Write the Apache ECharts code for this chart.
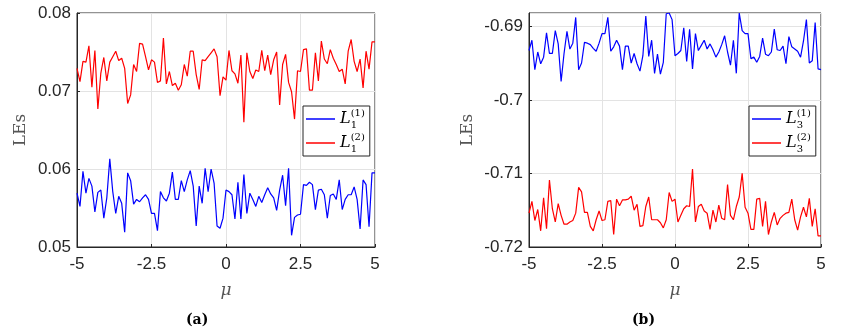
<!DOCTYPE html>
<html>
<head>
<meta charset="utf-8">
<script src="https://cdn.jsdelivr.net/npm/echarts@6/dist/echarts.min.js"></script>
<style>
  html, body { margin: 0; padding: 0; background: #fff; }
  #main { width: 857px; height: 333px; }
</style>
</head>
<body>
<div id="main"></div>
<script>
// mu grid, -5 .. 5 step 0.1
const mu = [-5, -4.9, -4.8, -4.7, -4.6, -4.5, -4.4, -4.3, -4.2, -4.1,
  -4, -3.9, -3.8, -3.7, -3.6, -3.5, -3.4, -3.3, -3.2, -3.1,
  -3, -2.9, -2.8, -2.7, -2.6, -2.5, -2.4, -2.3, -2.2, -2.1,
  -2, -1.9, -1.8, -1.7, -1.6, -1.5, -1.4, -1.3, -1.2, -1.1,
  -1, -0.9, -0.8, -0.7, -0.6, -0.5, -0.4, -0.3, -0.2, -0.1,
  0, 0.1, 0.2, 0.3, 0.4, 0.5, 0.6, 0.7, 0.8, 0.9,
  1, 1.1, 1.2, 1.3, 1.4, 1.5, 1.6, 1.7, 1.8, 1.9,
  2, 2.1, 2.2, 2.3, 2.4, 2.5, 2.6, 2.7, 2.8, 2.9,
  3, 3.1, 3.2, 3.3, 3.4, 3.5, 3.6, 3.7, 3.8, 3.9,
  4, 4.1, 4.2, 4.3, 4.4, 4.5, 4.6, 4.7, 4.8, 4.9, 5]

// (a) L1(1) blue
const a1 = [0.0569, 0.0552, 0.0597, 0.0569, 0.0588, 0.0578, 0.0545, 0.0570, 0.0573, 0.0537,
  0.0563, 0.0613, 0.0571, 0.0543, 0.0565, 0.0556, 0.0519, 0.0595, 0.0585, 0.0555,
  0.0561, 0.0558, 0.0563, 0.0567, 0.0561, 0.0543, 0.0543, 0.0521, 0.0571, 0.0563,
  0.0559, 0.0569, 0.0596, 0.0561, 0.0561, 0.0585, 0.0571, 0.0586, 0.0598, 0.0578,
  0.0527, 0.0578, 0.0556, 0.0601, 0.0571, 0.0600, 0.0582, 0.0527, 0.0524, 0.0537,
  0.0573, 0.0571, 0.0567, 0.0536, 0.0583, 0.0536, 0.0593, 0.0543, 0.0569, 0.0561,
  0.0552, 0.0565, 0.0557, 0.0567, 0.0576, 0.0568, 0.0563, 0.0547, 0.0573, 0.0592,
  0.0553, 0.0601, 0.0515, 0.0538, 0.0541, 0.0542, 0.0580, 0.0579, 0.0583, 0.0580,
  0.0548, 0.0573, 0.0574, 0.0567, 0.0537, 0.0566, 0.0568, 0.0561, 0.0586, 0.0548,
  0.0561, 0.0567, 0.0567, 0.0577, 0.0561, 0.0523, 0.0586, 0.0580, 0.0526, 0.0595, 0.0595]

// (a) L1(2) red
const a2 = [0.0729, 0.0712, 0.0738, 0.0737, 0.0758, 0.0705, 0.0752, 0.0677, 0.0723, 0.0743,
  0.0713, 0.0737, 0.0744, 0.0751, 0.0739, 0.0742, 0.0729, 0.0684, 0.0695, 0.0734,
  0.0725, 0.0761, 0.0760, 0.0744, 0.0727, 0.0740, 0.0737, 0.0711, 0.0713, 0.0768,
  0.0709, 0.0725, 0.0707, 0.0710, 0.0701, 0.0708, 0.0734, 0.0719, 0.0751, 0.0751,
  0.0721, 0.0702, 0.0740, 0.0739, 0.0744, 0.0749, 0.0754, 0.0744, 0.0694, 0.0718,
  0.0714, 0.0752, 0.0726, 0.0722, 0.0710, 0.0746, 0.0660, 0.0749, 0.0725, 0.0716,
  0.0727, 0.0725, 0.0752, 0.0726, 0.0746, 0.0721, 0.0740, 0.0750, 0.0682, 0.0734,
  0.0747, 0.0711, 0.0699, 0.0664, 0.0726, 0.0725, 0.0753, 0.0754, 0.0701, 0.0701,
  0.0749, 0.0713, 0.0764, 0.0741, 0.0735, 0.0753, 0.0742, 0.0734, 0.0725, 0.0728,
  0.0709, 0.0751, 0.0766, 0.0738, 0.0725, 0.0741, 0.0704, 0.0751, 0.0728, 0.0763, 0.0763]

// (b) L3(1) blue
const b1 = [-0.6933, -0.6919, -0.6959, -0.6935, -0.6951, -0.6942, -0.6909, -0.6937, -0.6937, -0.6906,
  -0.6924, -0.6975, -0.6937, -0.6907, -0.6931, -0.6923, -0.6888, -0.6959, -0.6950, -0.6922,
  -0.6923, -0.6925, -0.6930, -0.6934, -0.6923, -0.6910, -0.6910, -0.6888, -0.6934, -0.6928,
  -0.6919, -0.6927, -0.6959, -0.6927, -0.6927, -0.6950, -0.6937, -0.6951, -0.6961, -0.6940,
  -0.6886, -0.6941, -0.6919, -0.6964, -0.6938, -0.6965, -0.6949, -0.6883, -0.6882, -0.6891,
  -0.6940, -0.6937, -0.6933, -0.6902, -0.6948, -0.6904, -0.6958, -0.6910, -0.6933, -0.6926,
  -0.6919, -0.6931, -0.6924, -0.6932, -0.6942, -0.6935, -0.6925, -0.6913, -0.6935, -0.6953,
  -0.6919, -0.6964, -0.6882, -0.6906, -0.6910, -0.6910, -0.6944, -0.6942, -0.6949, -0.6941,
  -0.6916, -0.6938, -0.6940, -0.6935, -0.6904, -0.6932, -0.6933, -0.6927, -0.6951, -0.6914,
  -0.6928, -0.6931, -0.6934, -0.6942, -0.6920, -0.6891, -0.6950, -0.6947, -0.6895, -0.6958, -0.6959]

// (b) L3(2) red
const b2 = [-0.7154, -0.7138, -0.7164, -0.7149, -0.7178, -0.7133, -0.7175, -0.7109, -0.7148, -0.7166,
  -0.7141, -0.7157, -0.7169, -0.7169, -0.7166, -0.7164, -0.7154, -0.7119, -0.7125, -0.7153,
  -0.7153, -0.7172, -0.7178, -0.7163, -0.7151, -0.7164, -0.7163, -0.7138, -0.7137, -0.7183,
  -0.7135, -0.7144, -0.7136, -0.7136, -0.7135, -0.7131, -0.7150, -0.7142, -0.7172, -0.7171,
  -0.7145, -0.7132, -0.7163, -0.7163, -0.7163, -0.7167, -0.7174, -0.7163, -0.7126, -0.7138,
  -0.7135, -0.7166, -0.7157, -0.7148, -0.7144, -0.7145, -0.7094, -0.7166, -0.7145, -0.7142,
  -0.7151, -0.7154, -0.7176, -0.7150, -0.7166, -0.7143, -0.7161, -0.7163, -0.7115, -0.7157,
  -0.7163, -0.7145, -0.7132, -0.7100, -0.7146, -0.7154, -0.7176, -0.7176, -0.7135, -0.7134,
  -0.7172, -0.7138, -0.7183, -0.7166, -0.7153, -0.7170, -0.7161, -0.7157, -0.7154, -0.7153,
  -0.7135, -0.7163, -0.7177, -0.7159, -0.7146, -0.7159, -0.7134, -0.7172, -0.7148, -0.7185, -0.7185]

const pairs = (ys) => mu.map((x, i) => [x, ys[i]])

const axisColor = '#262626'
const gridColor = '#e3e3e3'

function makeX(idx) {
  return {
    type: 'value', gridIndex: idx, min: -5, max: 5, interval: 2.5,
    name: 'μ', nameLocation: 'middle', nameGap: 35,
    nameTextStyle: { fontFamily: 'DejaVu Serif', fontStyle: 'italic', fontSize: 17, color: '#555' },
    axisLine: { onZero: false, lineStyle: { color: axisColor } },
    axisTick: { inside: true, length: 3, lineStyle: { color: axisColor } },
    axisLabel: { color: axisColor, fontSize: 17, fontFamily: 'Liberation Sans', margin: 9 },
    splitLine: { show: true, lineStyle: { color: gridColor } }
  }
}

function makeY(idx, min, max, gap) {
  return {
    type: 'value', gridIndex: idx, min: min, max: max, interval: 0.01,
    name: 'LEs', nameLocation: 'middle', nameGap: gap,
    nameTextStyle: { fontFamily: 'DejaVu Serif', fontSize: 17, color: '#555' },
    axisLine: { onZero: false, lineStyle: { color: axisColor } },
    axisTick: { inside: true, length: 3, lineStyle: { color: axisColor } },
    axisLabel: { color: axisColor, fontSize: 17, fontFamily: 'Liberation Sans', margin: 6, showMaxLabel: idx === 0 },
    splitLine: { show: true, lineStyle: { color: gridColor } }
  }
}

const legendRich = {
  l: { fontFamily: 'DejaVu Serif', fontStyle: 'italic', fontSize: 16, lineHeight: 22, verticalAlign: 'middle', color: '#000' },
  b: { fontFamily: 'DejaVu Serif', fontSize: 10, lineHeight: 22, width: 0, verticalAlign: 'bottom', color: '#000' },
  p: { fontFamily: 'DejaVu Serif', fontSize: 10, lineHeight: 22, verticalAlign: 'top', color: '#000' }
}

function makeLegend(names, left) {
  return {
    data: names, orient: 'vertical', left: left, top: 106,
    padding: [2, 5, 2, 3], itemGap: 2, itemWidth: 29, itemHeight: 1.5,
    icon: 'rect',
    borderColor: axisColor, borderWidth: 1, backgroundColor: '#fff',
    selectedMode: false,
    formatter: function (name) {
      return '{l|L}{b|' + name[1] + '}{p|' + name.slice(2) + '}'
    },
    textStyle: { rich: legendRich }
  }
}

const lineSeries = (name, idx, ys, color) => ({
  name: name, type: 'line', xAxisIndex: idx, yAxisIndex: idx,
  data: pairs(ys), symbol: 'none', animation: false,
  lineStyle: { width: 1.2, color: color }, itemStyle: { color: color }
})

const chart = echarts.init(document.getElementById('main'))
chart.setOption({
  backgroundColor: '#fff',
  animation: false,
  grid: [
    { left: 77, right: 482, top: 13, bottom: 86, show: true, borderColor: axisColor, borderWidth: 1 },
    { left: 529, right: 36, top: 13, bottom: 86, show: true, borderColor: axisColor, borderWidth: 1 }
  ],
  xAxis: [makeX(0), makeX(1)],
  yAxis: [makeY(0, 0.05, 0.08, 48), makeY(1, -0.72, -0.6882, 53)],
  legend: [
    makeLegend(['L1(1)', 'L1(2)'], 303),
    makeLegend(['L3(1)', 'L3(2)'], 749)
  ],
  series: [
    lineSeries('L1(1)', 0, a1, '#0000ff'),
    lineSeries('L1(2)', 0, a2, '#ff0000'),
    lineSeries('L3(1)', 1, b1, '#0000ff'),
    lineSeries('L3(2)', 1, b2, '#ff0000')
  ],
  graphic: [
    { type: 'text', left: 186, top: 313, style: { text: '(a)', font: 'bold 14px "DejaVu Serif"', fill: '#000' } },
    { type: 'text', left: 632, top: 313, style: { text: '(b)', font: 'bold 14px "DejaVu Serif"', fill: '#000' } }
  ]
})
</script>
</body>
</html>
